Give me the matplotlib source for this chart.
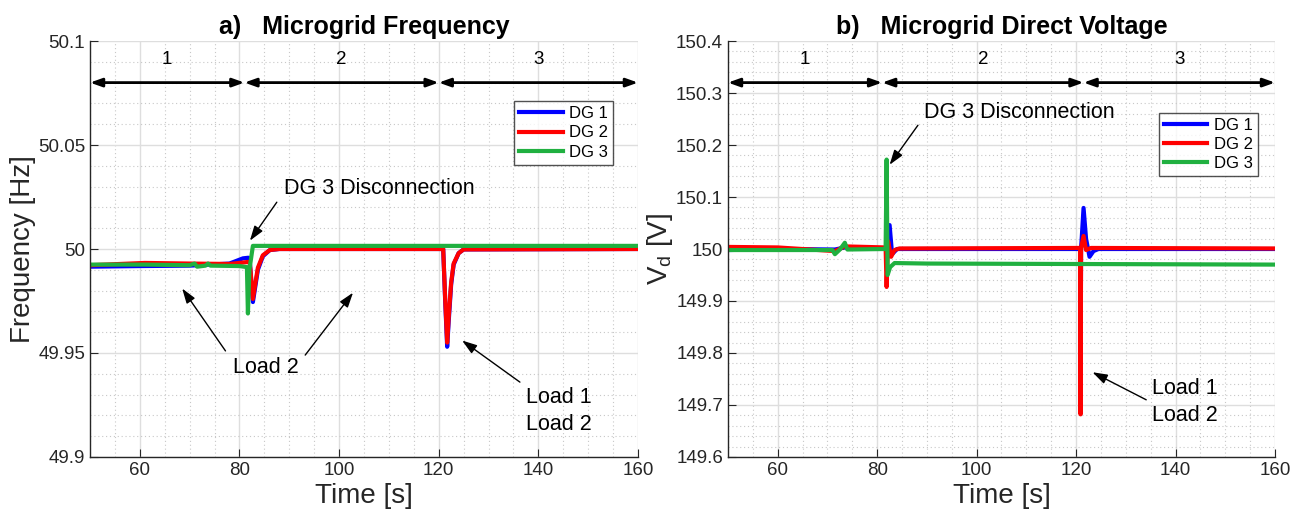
import numpy as np
import matplotlib
matplotlib.use("Agg")
import matplotlib.pyplot as plt
from matplotlib.ticker import MultipleLocator, FormatStrFormatter

plt.rcParams['font.family'] = ['Liberation Sans', 'DejaVu Sans']

# ---- data: frequency (left) ----
tf_dg1 = [50, 60, 70, 78, 80.7, 81.8, 82.1, 82.7, 83.7, 84.7, 86.1, 88, 120.9, 121.3, 121.7, 122.0, 122.5, 123.0, 124.0, 125.0, 160]
f_dg1 = [49.9915, 49.9918, 49.9920, 49.9930, 49.9955, 49.9958, 49.9930, 49.9745, 49.9900, 49.9965, 49.9995, 50.0, 50.0, 49.9750, 49.9530, 49.9650, 49.9830, 49.9925, 49.9980, 49.9998, 50.0]

tf_dg2 = [50, 61, 70, 78, 80.7, 81.8, 82.1, 82.7, 83.7, 84.7, 86.1, 88, 120.9, 121.3, 121.7, 122.0, 122.5, 123.0, 124.0, 125.0, 160]
f_dg2 = [49.9922, 49.9933, 49.9930, 49.9928, 49.9935, 49.9938, 49.9930, 49.9760, 49.9910, 49.9970, 49.9995, 50.0, 50.0, 49.9760, 49.9550, 49.9670, 49.9840, 49.9930, 49.9980, 49.9998, 50.0]

tf_dg3 = [50, 61, 70, 71.0, 71.5, 73.2, 73.7, 74.2, 80, 81.5, 81.7, 82.0, 82.7, 160]
f_dg3 = [49.9925, 49.9925, 49.9922, 49.9930, 49.9915, 49.9920, 49.9930, 49.9920, 49.9918, 49.9913, 49.9690, 49.9900, 50.0015, 50.0015]

# ---- data: direct voltage (right) ----
tv_dg1 = [50, 60, 71.5, 73.5, 81.7, 82.0, 82.5, 83.0, 84.0, 120.8, 120.9, 121.0, 121.5, 122.0, 122.7, 123.5, 124.5, 160]
v_dg1 = [149.998, 150.000, 149.999, 150.003, 150.000, 149.990, 150.046, 149.990, 150.000, 150.000, 149.760, 150.000, 150.079, 150.020, 149.985, 149.996, 150.000, 150.000]

tv_dg2 = [50, 60, 71.5, 73.5, 81.7, 81.9, 82.2, 82.8, 83.5, 84.5, 120.8, 120.9, 121.0, 121.5, 122.0, 123.0, 160]
v_dg2 = [150.004, 150.003, 149.996, 150.005, 150.003, 149.927, 150.015, 149.985, 149.998, 150.001, 150.002, 149.682, 150.002, 150.025, 149.998, 150.002, 150.001]

tv_dg3 = [50, 60, 71.0, 71.5, 72.5, 73.5, 74.0, 81.7, 81.9, 82.1, 82.6, 83.5, 90, 160]
v_dg3 = [149.998, 149.998, 149.998, 149.990, 149.999, 150.012, 149.999, 150.000, 150.172, 149.950, 149.965, 149.973, 149.972, 149.970]

section_labels = ["1", "2", "3"]
bounds_f = [50, 81, 120, 160]
bounds_v = [50, 81, 121.5, 160]

blue = "#0000ff"
red = "#ff0000"
green = "#20b040"
dark = "#262626"

fig = plt.figure(figsize=(13.1, 5.23), dpi=100)
ax1 = fig.add_axes([0.0687, 0.1262, 0.4183, 0.7954])
ax2 = fig.add_axes([0.5557, 0.1262, 0.4176, 0.7954])


def style_axes(ax, ylim, ymaj, ymin):
    ax.set_xlim(50, 160)
    ax.set_ylim(*ylim)
    ax.set_xticks(np.arange(60, 161, 20))
    ax.xaxis.set_minor_locator(MultipleLocator(5))
    ax.yaxis.set_major_locator(MultipleLocator(ymaj))
    ax.yaxis.set_minor_locator(MultipleLocator(ymin))
    ax.grid(which="major", color="#dedede", lw=1.0, ls="-")
    ax.grid(which="minor", color="#c8c8c8", lw=0.8, ls=(0, (1, 2.5)))
    ax.set_axisbelow(True)
    for s in ["top", "right"]:
        ax.spines[s].set_visible(False)
    for s in ["left", "bottom"]:
        ax.spines[s].set_color(dark)
        ax.spines[s].set_linewidth(1.0)
    ax.tick_params(which="both", direction="in", colors=dark, labelsize=13.5)
    ax.tick_params(which="major", length=6)
    ax.tick_params(which="minor", length=0)
    ax.set_xlabel("Time [s]", fontsize=20, color=dark, labelpad=3)


def sections(ax, bounds, y_arrow, y_text):
    for i in range(3):
        ax.annotate("", xy=(bounds[i], y_arrow), xytext=(bounds[i + 1], y_arrow),
                    arrowprops=dict(arrowstyle="<|-|>,head_length=0.7,head_width=0.25",
                                    color="black", lw=2, shrinkA=0, shrinkB=0))
        ax.text((bounds[i] + bounds[i + 1]) / 2, y_text, section_labels[i],
                ha="center", va="center", fontsize=13.5)


def note(ax, text, head, tail, xy_text=None, ha="left"):
    ax.annotate("", xy=head, xytext=tail,
                arrowprops=dict(arrowstyle="-|>,head_length=0.9,head_width=0.3",
                                color="black", lw=1, shrinkA=0, shrinkB=0))
    if xy_text is not None:
        ax.text(xy_text[0], xy_text[1], text, ha=ha, va="center", fontsize=15.5,
                linespacing=1.35)


# ---- left: frequency ----
ax1.plot(tf_dg1, f_dg1, color=blue, lw=3, label="DG 1")
ax1.plot(tf_dg2, f_dg2, color=red, lw=3, label="DG 2")
ax1.plot(tf_dg3, f_dg3, color=green, lw=3, label="DG 3")
style_axes(ax1, (49.9, 50.1), 0.05, 0.01)
ax1.yaxis.set_major_formatter(FormatStrFormatter("%g"))
ax1.set_ylabel("Frequency [Hz]", fontsize=20, color=dark, labelpad=1)
ax1.set_title("a)   Microgrid Frequency", fontsize=18, fontweight="bold", pad=5)
sections(ax1, bounds_f, 50.080, 50.091)
note(ax1, "DG 3 Disconnection", (82.1, 50.004), (87.5, 50.0225), (89.0, 50.029))
note(ax1, "", (68.5, 49.981), (77.2, 49.951))
note(ax1, "Load 2", (102.8, 49.979), (93.2, 49.949), (85.4, 49.943), ha="center")
note(ax1, "Load 1\nLoad 2", (124.7, 49.956), (136.3, 49.936), (137.5, 49.922))
leg1 = ax1.legend(loc="upper right", bbox_to_anchor=(0.955, 0.855), fontsize=12,
                  frameon=True, fancybox=False, edgecolor=dark, handlelength=2.6,
                  borderpad=0.3, labelspacing=0.25, handletextpad=0.4, borderaxespad=0)
leg1.get_frame().set_linewidth(1.0)

# ---- right: direct voltage ----
ax2.plot(tv_dg1, v_dg1, color=blue, lw=3, label="DG 1")
ax2.plot(tv_dg2, v_dg2, color=red, lw=3, label="DG 2")
ax2.plot(tv_dg3, v_dg3, color=green, lw=3, label="DG 3")
style_axes(ax2, (149.6, 150.4), 0.1, 0.02)
ax2.yaxis.set_major_formatter(plt.FuncFormatter(lambda v, p: "%g" % round(v, 1)))
ax2.set_ylabel("V$_\\mathregular{d}$ [V]", fontsize=20, color=dark, labelpad=1)
ax2.set_title("b)   Microgrid Direct Voltage", fontsize=18, fontweight="bold", pad=5)
sections(ax2, bounds_v, 150.32, 150.365)
note(ax2, "DG 3 Disconnection", (82.5, 150.162), (88.2, 150.238), (89.4, 150.262))
note(ax2, "Load 1\nLoad 2", (123.3, 149.763), (134.1, 149.71), (135.3, 149.706))
leg2 = ax2.legend(loc="upper right", bbox_to_anchor=(0.969, 0.827), fontsize=12,
                  frameon=True, fancybox=False, edgecolor=dark, handlelength=2.6,
                  borderpad=0.3, labelspacing=0.25, handletextpad=0.4, borderaxespad=0)
leg2.get_frame().set_linewidth(1.0)

fig.savefig("out.png", dpi=100)
